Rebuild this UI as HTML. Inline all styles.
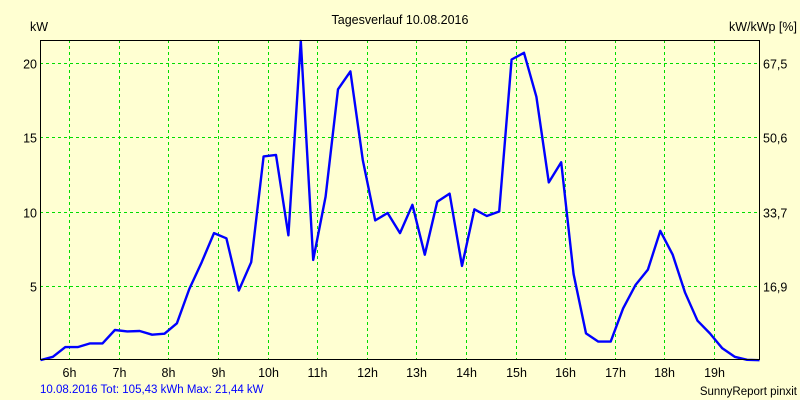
<!DOCTYPE html>
<html><head><meta charset="utf-8"><style>
body{margin:0;background:#FFFFD2;}
svg{display:block;font-family:"Liberation Sans",sans-serif;}
</style></head><body>
<svg id="chart" width="800" height="400">
<rect x="0" y="0" width="800" height="400" fill="#FFFFD2"/>
<text x="400" y="24" font-size="12.5" text-anchor="middle" fill="#000">Tagesverlauf 10.08.2016</text>
<text x="30" y="31" font-size="12.5" fill="#000">kW</text>
<text x="797" y="31" font-size="12.5" text-anchor="end" fill="#000">kW/kWp [%]</text>
<g id="grid"></g>
<g id="ticks"></g>
<path id="line" fill="none" stroke="#0000FF" stroke-width="2.4" stroke-linejoin="round"/>
<rect x="40.5" y="40.5" width="719" height="319" fill="none" stroke="#000" stroke-width="1"/>
<text x="40" y="393" font-size="11.5" fill="#0000FF">10.08.2016 Tot: 105,43 kWh Max: 21,44 kW</text>
<text x="797" y="395" font-size="11.5" text-anchor="end" fill="#000">SunnyReport pinxit</text>
</svg>
<script>
const hourTicks = [6,7,8,9,10,11,12,13,14,15,16,17,18,19];
const kwTicks = [5,10,15,20];
const pctTicks = ["16,9","33,7","50,6","67,5"];
const startHour = 5.42;
const stepHour = 0.25;
const powerKw = [0.03,0.25,0.9,0.9,1.15,1.15,2.05,1.95,1.98,1.73,1.8,2.5,4.8,6.6,8.55,8.2,4.7,6.6,13.7,13.8,8.4,21.44,6.75,11.0,18.2,19.4,13.45,9.4,9.9,8.55,10.45,7.1,10.65,11.2,6.35,10.15,9.7,10.0,20.2,20.65,17.7,11.95,13.3,5.8,1.82,1.27,1.27,3.5,5.07,6.1,8.7,7.1,4.55,2.67,1.82,0.82,0.25,0.05,0.02];

const X0=40, X1=760, Y0=360.5, H0=5.41, H1=19.93, PXKW=14.9;
const xs = h => X0 + (h-H0)/(H1-H0)*(X1-X0);
const ys = v => Math.max(40, Y0 - v*PXKW);
const NS="http://www.w3.org/2000/svg";
const grid=document.getElementById('grid'), ticks=document.getElementById('ticks');
hourTicks.forEach(h=>{
  const x=Math.round(xs(h))+0.5;
  const l=document.createElementNS(NS,'line');
  l.setAttribute('x1',x);l.setAttribute('x2',x);l.setAttribute('y1',40);l.setAttribute('y2',359);
  l.setAttribute('stroke','#00DD00');l.setAttribute('stroke-dasharray','3,3');
  
  
  grid.appendChild(l);
  const t=document.createElementNS(NS,'text');
  t.setAttribute('x',x);t.setAttribute('y',377);t.setAttribute('font-size','12.5');t.setAttribute('text-anchor','middle');
  t.textContent=h+'h';
  
  
  ticks.appendChild(t);
});
kwTicks.forEach((v,i)=>{
  const y=Math.round(ys(v))+0.5;
  const l=document.createElementNS(NS,'line');
  l.setAttribute('x1',40);l.setAttribute('x2',760);l.setAttribute('y1',y);l.setAttribute('y2',y);
  l.setAttribute('stroke','#00DD00');l.setAttribute('stroke-dasharray','3,3');
  
  
  grid.appendChild(l);
  const t=document.createElementNS(NS,'text');
  t.setAttribute('x',37);t.setAttribute('y',y+5);t.setAttribute('font-size','12.5');t.setAttribute('text-anchor','end');
  t.textContent=v;
  
  
  ticks.appendChild(t);
  const r=document.createElementNS(NS,'text');
  r.setAttribute('x',763);r.setAttribute('y',y+5);r.setAttribute('font-size','12.5');
  r.textContent=pctTicks[i];
  
  
  ticks.appendChild(r);
});
document.getElementById('line').setAttribute('d',powerKw.map((v,i)=>(i?'L':'M')+xs(startHour+i*stepHour).toFixed(1)+','+ys(v).toFixed(1)).join(''));
</script>
</body></html>
